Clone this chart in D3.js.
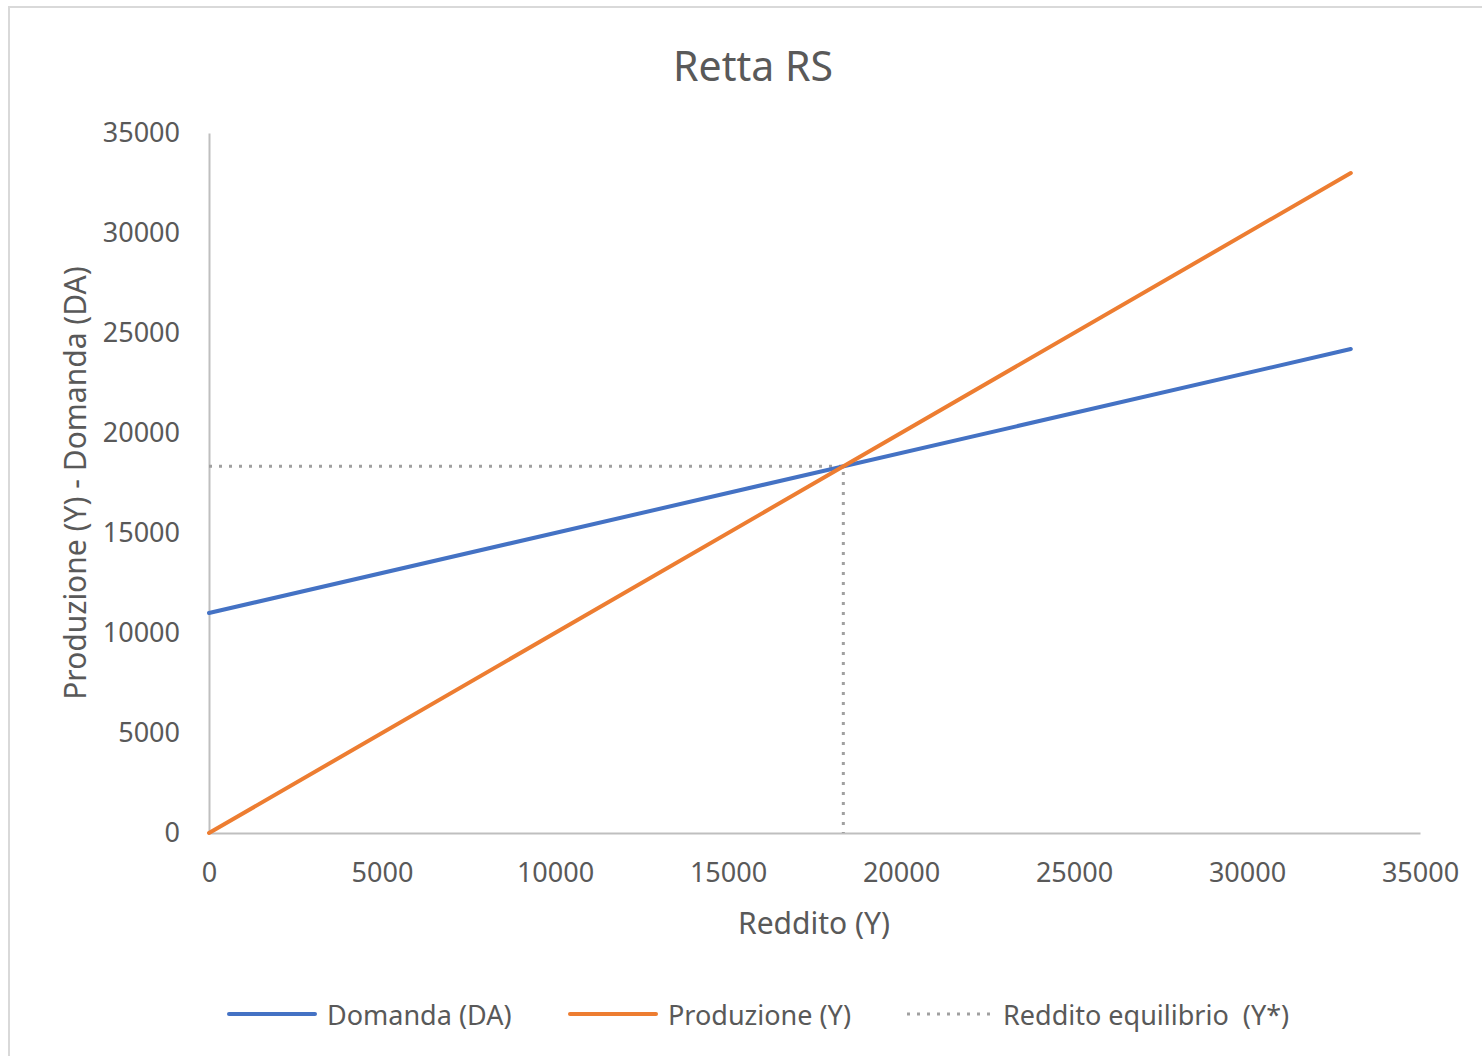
<!DOCTYPE html>
<html>
<head>
<meta charset="utf-8">
<script src="https://cdn.jsdelivr.net/npm/d3@7"></script>
<style>
  html, body { margin: 0; padding: 0; background: #fff; }
  svg { display: block; }
  text { font-family: "Noto Sans", "Open Sans", sans-serif; fill: #595959; }
</style>
</head>
<body>
<svg id="chart" width="1482" height="1056"></svg>
<script>
// ---- data ----
const xValues = [0, 33000];
const domandaValues = [11000, 24200];
const produzioneValues = [0, 33000];
const equilibrio = 18333;
const xTicks = [0, 5000, 10000, 15000, 20000, 25000, 30000, 35000];
const yTicks = [0, 5000, 10000, 15000, 20000, 25000, 30000, 35000];
const seriesNames = ["Domanda (DA)", "Produzione (Y)", "Reddito equilibrio  (Y*)"];
const seriesColors = ["#4472C4", "#ED7D31", "#A0A0A0"];

const svg = d3.select("#chart");
const W = 1482, H = 1056;
const m = { left: 209, right: 1420, top: 133, bottom: 833 };

// outer border
svg.append("rect").attr("x", 9).attr("y", 7).attr("width", W + 20).attr("height", H + 20)
  .attr("fill", "#fff").attr("stroke", "#D9D9D9").attr("stroke-width", 2);

const x = d3.scaleLinear().domain([0, 35000]).range([m.left, m.right]);
const y = d3.scaleLinear().domain([0, 35000]).range([m.bottom, m.top]);

// axes
const xAxis = d3.axisBottom(x).tickValues(xTicks).tickSize(0).tickPadding(28).tickFormat(d3.format("d"));
const yAxis = d3.axisLeft(y).tickValues(yTicks).tickSize(0).tickPadding(28).tickFormat(d3.format("d"));

const gx = svg.append("g").attr("transform", `translate(0,${m.bottom})`).call(xAxis);
const gy = svg.append("g").attr("transform", `translate(${m.left},0)`).call(yAxis);
[gx, gy].forEach(g => {
  g.select(".domain").attr("stroke", "#BFBFBF").attr("stroke-width", 2);
  g.selectAll("text").style("font-family", '"Noto Sans", sans-serif').style("font-size", "27px").attr("fill", "#595959");
});
gx.selectAll("text").attr("dy", "0.35em").attr("y", 40);
gy.selectAll("text").attr("x", -29);

// equilibrium dotted line
const eqPts = [[0, equilibrio], [equilibrio, equilibrio], [equilibrio, 0]];
const line = d3.line().x(d => x(d[0])).y(d => y(d[1]));
svg.append("path").attr("d", line(eqPts)).attr("fill", "none")
  .attr("stroke", seriesColors[2]).attr("stroke-width", 3).attr("stroke-dasharray", "3 7");

// series
const dom = xValues.map((v, i) => [v, domandaValues[i]]);
const prod = xValues.map((v, i) => [v, produzioneValues[i]]);
svg.append("path").attr("d", line(dom)).attr("fill", "none")
  .attr("stroke", seriesColors[0]).attr("stroke-width", 4).attr("stroke-linecap", "round");
svg.append("path").attr("d", line(prod)).attr("fill", "none")
  .attr("stroke", seriesColors[1]).attr("stroke-width", 4).attr("stroke-linecap", "round");

// title
svg.append("text").attr("x", 753).attr("y", 65).attr("text-anchor", "middle")
  .attr("dominant-baseline", "central").style("font-size", "41px").text("Retta RS");

// axis titles
svg.append("text").attr("x", 814).attr("y", 922).attr("text-anchor", "middle")
  .attr("dominant-baseline", "central").style("font-size", "30px").text("Reddito (Y)");
svg.append("text").attr("transform", "translate(74,483) rotate(-90)").attr("text-anchor", "middle")
  .attr("dominant-baseline", "central").style("font-size", "30px").text("Produzione (Y) - Domanda (DA)");

// legend
const legendX = [229, 570, 907];
const lg = svg.append("g");
seriesNames.forEach((name, i) => {
  const g = lg.append("g").attr("transform", `translate(${legendX[i]},1014)`);
  g.append("line").attr("x1", 0).attr("x2", i === 2 ? 84 : 86).attr("y1", 0).attr("y2", 0)
    .attr("stroke", seriesColors[i]).attr("stroke-width", i === 2 ? 3 : 4)
    .attr("stroke-dasharray", i === 2 ? "3 7" : null)
    .attr("stroke-linecap", i === 2 ? "butt" : "round");
  g.append("text").attr("x", i === 2 ? 96 : 98).attr("y", 0).attr("dominant-baseline", "central")
    .style("font-size", "27px").style("white-space", "pre").attr("xml:space", "preserve").text(name);
});
</script>
</body>
</html>
